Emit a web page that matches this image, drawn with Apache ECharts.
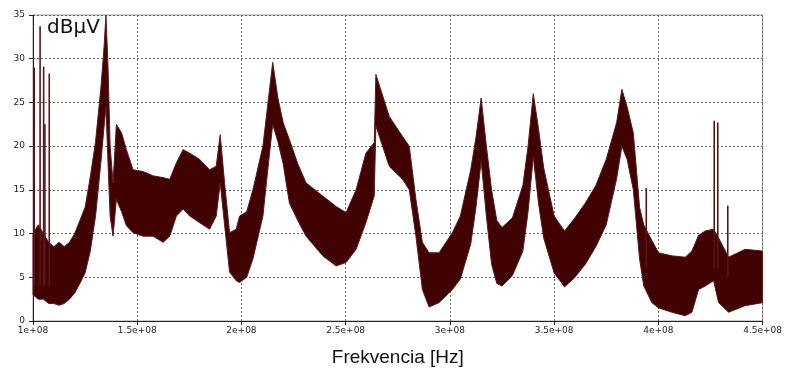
<!DOCTYPE html>
<html>
<head>
<meta charset="utf-8">
<script src="https://cdn.jsdelivr.net/npm/echarts@6/dist/echarts.min.js"></script>
<style>
  html, body { margin: 0; padding: 0; background: #fff; }
  #chart { width: 785px; height: 372px; }
</style>
</head>
<body>
<div id="chart"></div>
<script>
// Spectrum envelope, frequencies in MHz, levels in dBµV
const freqMHz = [
  100, 102.5, 105, 107.5, 110, 112.5, 115, 117.5, 120, 122.5,
  125, 127.5, 130, 132.5, 134, 135, 136, 137, 138.4, 140,
  142.5, 144.8, 148, 152.8, 157.6, 162.4, 165.6, 168.8, 172, 175.2,
  179.9, 184.7, 187.9, 189.8, 191.9, 194.3, 197.5, 199.1, 202.5, 205.5,
  210.3, 212.5, 215, 217.5, 220, 223, 227, 231, 239, 245.4,
  250.2, 255, 259.7, 263.7, 264.5, 270.9, 277.3, 280.5, 283.7, 286.8,
  290, 294.8, 301.2, 305, 310, 312.5, 315, 317.5, 320, 322.5,
  325, 330, 335, 337.5, 340, 342.5, 345, 350, 355, 360,
  365, 370, 375, 380, 382.5, 385, 388, 391, 393, 396.9,
  400.1, 406.5, 412.9, 416.1, 419.3, 422.5, 426.5, 428.9, 433.7, 441.6,
  450];
const upperLevel = [
  10, 11, 10, 9, 8.5, 9, 8.5, 9, 10, 11.5,
  13, 16.5, 20.5, 26.5, 31, 35, 29, 20, 15.8, 22.5,
  21.5, 19.6, 17.3, 17.1, 16.6, 16.4, 16.2, 18.1, 19.6, 19.2,
  18.5, 17.3, 17.7, 21.3, 15.8, 10.1, 10.5, 12, 12.5, 15,
  20, 24.5, 29.6, 25.5, 22.7, 20.75, 18, 15.8, 14.3, 13.1,
  12.4, 15, 19.2, 20.4, 28.2, 23.4, 21.1, 20, 13.9, 9,
  7.8, 7.8, 10.1, 12, 17.3, 21, 25.5, 20, 15, 11.5,
  10.7, 11.8, 15.5, 20, 26, 22, 17.5, 12, 10.3, 11.8,
  13.5, 15.5, 18.5, 22.7, 26.5, 24.5, 21.5, 13, 11, 9.2,
  7.8, 7.45, 7.3, 8, 9.8, 10.3, 10.5, 9.5, 7.3, 8.2,
  8];
const lowerLevel = [
  3, 2.5, 2.5, 2, 2, 1.8, 2, 2.5, 3.2, 4.3,
  5.5, 8, 12, 18, 22, 24.5, 18, 12, 9.7, 13.9,
  12.5, 10.9, 10.1, 9.7, 9.7, 9, 9.7, 12, 12.8, 12,
  11.25, 10.5, 12, 15.8, 11, 5.6, 4.6, 4.4, 5, 7.1,
  12, 17, 22.5, 20.5, 18, 13.5, 11.5, 9.7, 7.45, 6.3,
  6.7, 8.2, 11.25, 14.3, 22.3, 17.7, 16.2, 15, 9.7, 3.6,
  1.6, 2.1, 3.6, 4.8, 8.8, 13, 18.3, 12, 6.5, 4.3,
  4, 5.2, 8, 12.5, 18.8, 13.5, 9.5, 5.5, 3.9, 5,
  6.5, 8.5, 11, 16.3, 20, 18.5, 15, 7.1, 4, 2.1,
  1.5, 1, 0.6, 1, 3.6, 4, 4.6, 2.1, 1, 1.75,
  2.1];

// Narrow carrier spikes
const spikeFreqMHz = [100.6, 103.4, 105.1, 105.7, 107.8, 394.2, 426.8, 428.5, 433.3];
const spikeTop = [29, 33.7, 29.1, 22.5, 28.3, 15.2, 22.9, 22.7, 13.2];
const spikeBase = [4, 4, 4, 4, 4, 6, 6, 6, 5];

const xTickLabels = ['1e+08', '1.5e+08', '2e+08', '2.5e+08', '3e+08', '3.5e+08', '4e+08', '4.5e+08'];
const yUnit = 'dBμV';
const xTitle = 'Frekvencia [Hz]';

const bandColor = '#400202';
const bandData = freqMHz.map((f, i) => [f * 1e6, lowerLevel[i], upperLevel[i]]);
const spikeData = spikeFreqMHz.map((f, i) => [f * 1e6, spikeBase[i], spikeTop[i]]);

const chart = echarts.init(document.getElementById('chart'), null, { renderer: 'canvas' });
chart.setOption({
  animation: false,
  backgroundColor: '#fff',
  grid: { left: 33, right: 21, top: 15, bottom: 50, show: true, borderColor: '#9a9a9a', borderWidth: 1 },
  graphic: [{
    type: 'text', left: 47, top: 18,
    style: { text: yUnit, font: '20px "DejaVu Sans", sans-serif', fill: '#111' }
  }],
  xAxis: {
    type: 'value', min: 1e8, max: 4.5e8, interval: 5e7,
    name: xTitle, nameLocation: 'middle', nameGap: 27,
    nameTextStyle: { fontFamily: '"Liberation Sans", Arial, sans-serif', fontSize: 19, color: '#111' },
    axisLine: { show: true, onZero: false, lineStyle: { color: '#222', width: 1 } },
    axisTick: { show: true, length: 4, lineStyle: { color: '#222' } },
    axisLabel: {
      margin: 5, fontFamily: '"DejaVu Sans", sans-serif', fontSize: 9, color: '#222',
      formatter: v => xTickLabels[Math.round((v - 1e8) / 5e7)]
    },
    splitLine: { show: true, lineStyle: { color: '#666', width: 1, type: [2, 2] } }
  },
  yAxis: {
    type: 'value', min: 0, max: 35, interval: 5,
    axisLine: { show: true, onZero: false, lineStyle: { color: '#222', width: 1 } },
    axisTick: { show: true, length: 4, lineStyle: { color: '#222' } },
    axisLabel: { margin: 8, fontFamily: '"DejaVu Sans", sans-serif', fontSize: 9, color: '#222' },
    splitLine: { show: true, lineStyle: { color: '#666', width: 1, type: [2, 2] } }
  },
  series: [
    {
      name: 'band', type: 'custom', data: bandData,
      encode: { x: 0, y: [1, 2] },
      renderItem: (params, api) => {
        // the envelope is one polygon: upper edge left to right, lower edge back
        if (params.dataIndex !== 0) return null;
        const top = bandData.map(d => api.coord([d[0], d[2]]));
        const bottom = bandData.map(d => api.coord([d[0], d[1]])).reverse();
        return {
          type: 'polygon',
          shape: { points: top.concat(bottom) },
          style: { fill: bandColor, stroke: '#5a1a1a', lineWidth: 1 }
        };
      },
      silent: true
    },
    {
      name: 'spikes', type: 'custom', data: spikeData,
      encode: { x: 0, y: [1, 2] },
      renderItem: (params, api) => {
        const a = api.coord([api.value(0), api.value(1)]);
        const b = api.coord([api.value(0), api.value(2)]);
        return {
          type: 'line',
          shape: { x1: a[0], y1: a[1], x2: b[0], y2: b[1] },
          style: { stroke: '#5c1414', lineWidth: 1.6 }
        };
      },
      silent: true
    }
  ]
});
</script>
</body>
</html>
